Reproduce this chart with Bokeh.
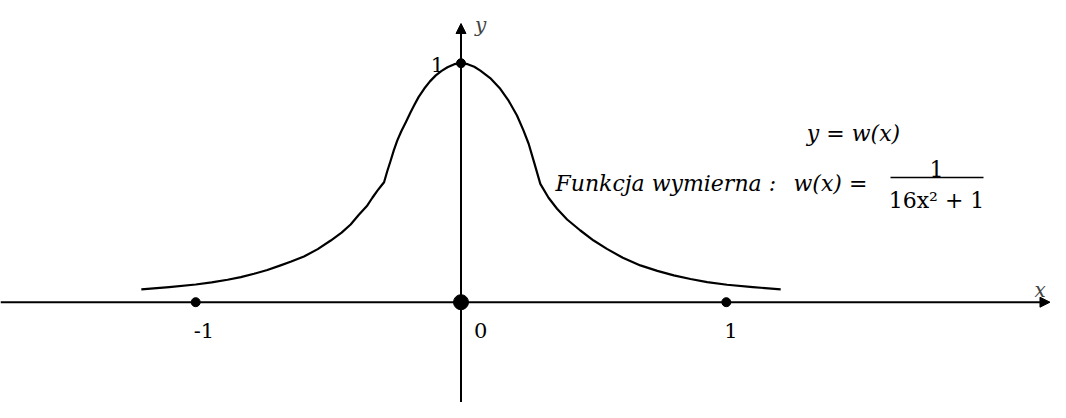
from bokeh.plotting import figure
from bokeh.models import Range1d, Arrow, NormalHead, Label
from bokeh.embed import file_html
from bokeh.resources import INLINE

# curve points: y = w(x) = 1/(16x^2+1)
curve_x = [-1.205, -1.10, -1.0, -0.940, -0.880, -0.830, -0.780, -0.730, -0.680, -0.640,
           -0.592, -0.540, -0.491, -0.450, -0.416, -0.385, -0.353, -0.334, -0.315, -0.302,
           -0.290, -0.278, -0.265, -0.253, -0.240, -0.225, -0.208, -0.190, -0.177, -0.160,
           -0.139, -0.117, -0.095, -0.073, -0.051, -0.025, 0.0,
           0.025, 0.050, 0.073, 0.110, 0.148, 0.180, 0.211, 0.235, 0.255, 0.277,
           0.299, 0.330, 0.362, 0.400, 0.450, 0.500, 0.550, 0.610, 0.676, 0.740,
           0.802, 0.865, 0.928, 1.003, 1.10, 1.205]
curve_y = [0.054, 0.063, 0.074, 0.083, 0.094, 0.105, 0.119, 0.135, 0.154, 0.170,
           0.191, 0.222, 0.258, 0.291, 0.325, 0.366, 0.405, 0.437, 0.467, 0.485,
           0.502, 0.548, 0.593, 0.636, 0.677, 0.715, 0.753, 0.795, 0.823, 0.858,
           0.893, 0.924, 0.949, 0.968, 0.983, 0.996, 1.0,
           0.996, 0.985, 0.969, 0.938, 0.893, 0.842, 0.781, 0.720, 0.663, 0.580,
           0.495, 0.437, 0.391, 0.346, 0.300, 0.258, 0.223, 0.186, 0.154, 0.131,
           0.112, 0.097, 0.084, 0.073, 0.063, 0.054]

x_ticks = [-1, 1]
x_tick_labels = ["-1", "1"]
y_ticks = [1]
y_tick_labels = ["1"]
origin_label = "0"

W, H = 1050, 402
SX, SY = 265.3, 239.0   # pixels per unit
OX, OY = 460.5, 301.7   # origin in canvas pixels (from top-left)
x0 = -OX / SX
x1 = x0 + W / SX
y1 = OY / SY
y0 = y1 - H / SY

p = figure(width=W, height=H, output_backend="svg", toolbar_location=None,
           x_range=Range1d(x0, x1), y_range=Range1d(y0, y1),
           min_border=0, min_border_left=0, min_border_right=0,
           min_border_top=0, min_border_bottom=0)
p.axis.visible = False
p.grid.visible = False
p.outline_line_color = None
p.background_fill_color = "white"
p.border_fill_color = "white"

# axes with arrows
p.add_layout(Arrow(end=NormalHead(size=10, fill_color="black", line_color="black", line_width=1),
                   x_start=x0, y_start=0, x_end=x1 - 0.002, y_end=0,
                   line_color="black", line_width=2))
p.add_layout(Arrow(end=NormalHead(size=10, fill_color="black", line_color="black", line_width=1),
                   x_start=0, y_start=y0, x_end=0, y_end=1.166,
                   line_color="black", line_width=2))

# curve
p.line(curve_x, curve_y, line_color="black", line_width=2.2, line_join="round")

# tick dots
p.scatter(x_ticks, [0] * len(x_ticks), size=9, color="black")
p.scatter([0] * len(y_ticks), y_ticks, size=9, color="black")
p.scatter([0], [0], size=15, color="black")

FONT = "DejaVu Serif"
TICK_FS = "21px"

for xv, lab_ in zip(x_ticks, x_tick_labels):
    p.add_layout(Label(x=xv, y=0, text=lab_, x_offset=-2, y_offset=-28,
                       text_font=FONT, text_font_size=TICK_FS, text_align="left",
                       text_baseline="alphabetic", text_color="black"))
p.add_layout(Label(x=0, y=0, text=origin_label, x_offset=13, y_offset=-28,
                   text_font=FONT, text_font_size=TICK_FS, text_align="left",
                   text_baseline="alphabetic", text_color="black"))
for yv, lab_ in zip(y_ticks, y_tick_labels):
    p.add_layout(Label(x=0, y=yv, text=lab_, x_offset=-17, y_offset=-1,
                       text_font=FONT, text_font_size=TICK_FS, text_align="right",
                       text_baseline="alphabetic", text_color="black"))

# axis names
p.add_layout(Label(x=0, y=y1, text="y", x_offset=14, y_offset=-24,
                   text_font=FONT, text_font_size="20px", text_font_style="italic",
                   text_align="left", text_baseline="alphabetic"))
p.add_layout(Label(x=x1, y=0, text="x", x_offset=-16, y_offset=12,
                   text_font=FONT, text_font_size="20px", text_font_style="italic",
                   text_align="left", text_baseline="alphabetic"))

# formula text (canvas-pixel positions)
def lab(text, cx, cy, align="left", style="italic", fs="22px"):
    p.add_layout(Label(x=cx, y=H - cy, x_units="screen", y_units="screen", text=text,
                       text_font=FONT, text_font_size=fs, text_font_style=style,
                       text_align=align, text_baseline="alphabetic", text_color="black"))

lab("y = w(x)", 853, 133, align="center")
lab("Funkcja wymierna :", 555, 183)
lab("w(x) =", 793, 183)
lab("1", 936, 168, align="center", style="normal")
lab("16x\u00b2 + 1", 936, 200, align="center", style="normal")
p.segment(x0=[(890 - OX) / SX], y0=[(OY - 177) / SY],
          x1=[(983 - OX) / SX], y1=[(OY - 177) / SY],
          line_color="black", line_width=1.4)

open("out.html", "w").write(file_html(p, INLINE))
